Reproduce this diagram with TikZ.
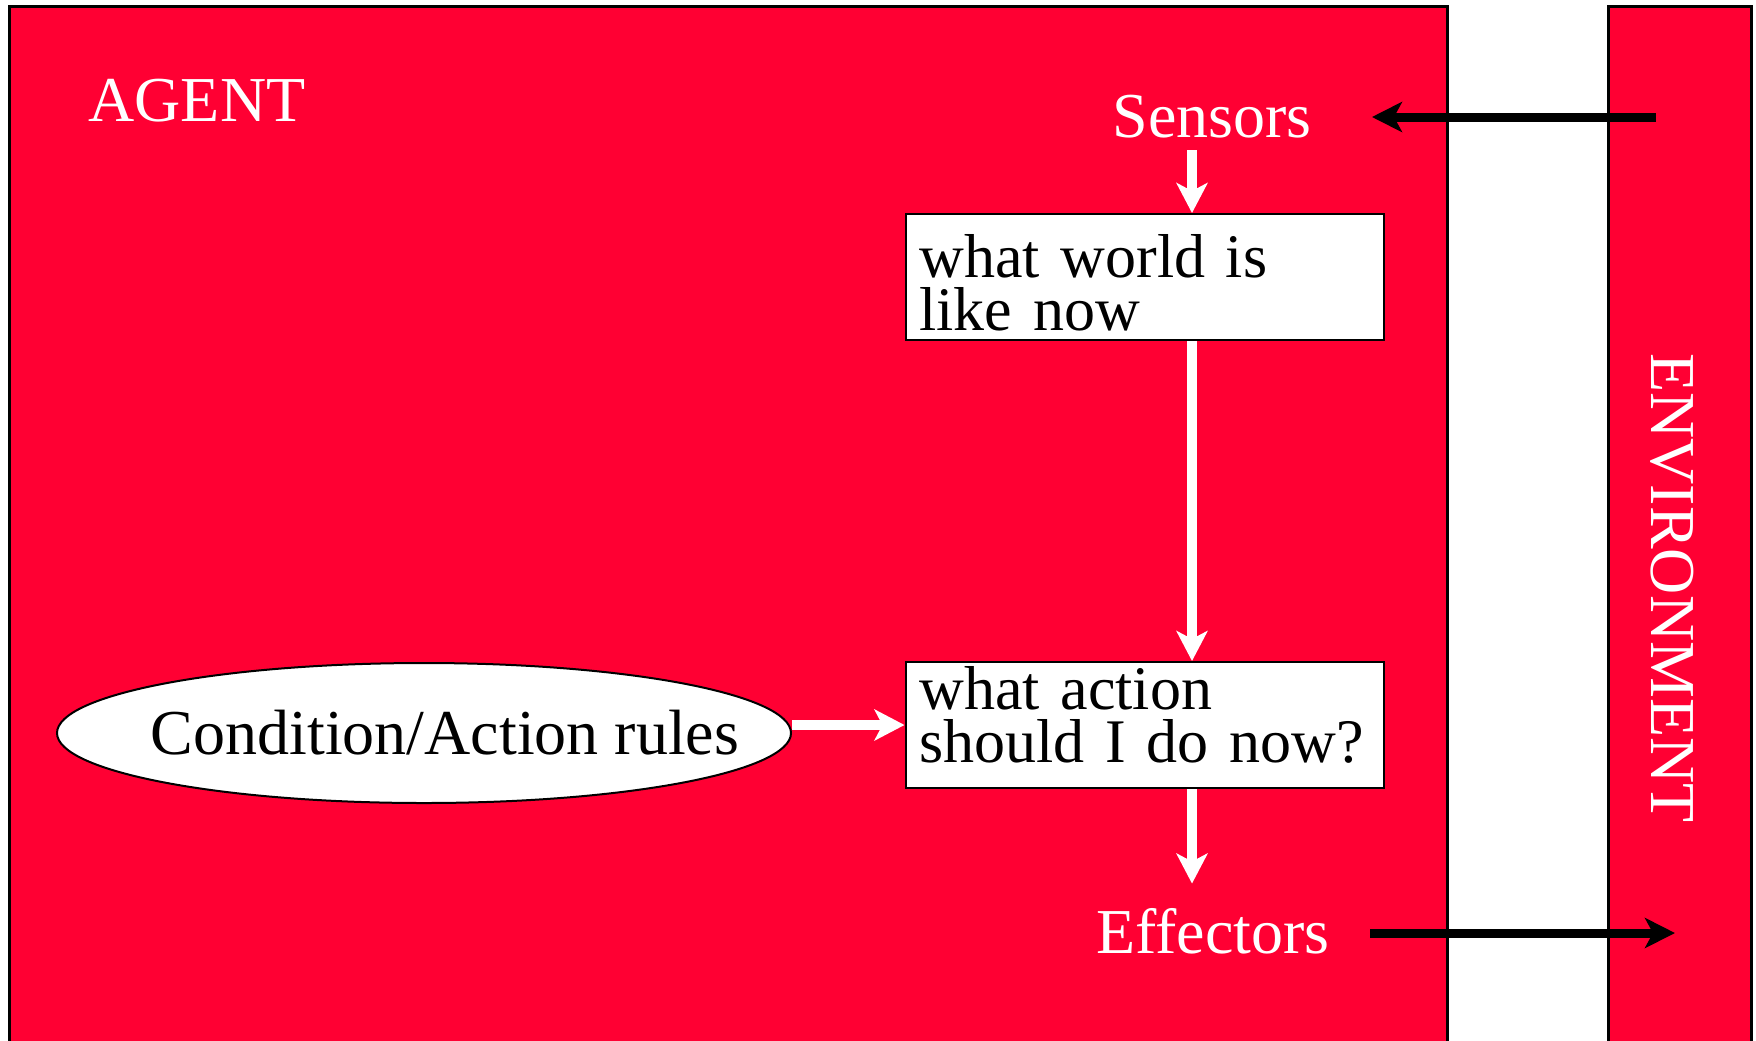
\documentclass[tikz,border=0pt]{standalone}
\usepackage{fontspec}
\setmainfont{Liberation Serif}
\usetikzlibrary{arrows.meta,shapes.geometric}
\definecolor{agentred}{RGB}{255,0,51}
\begin{document}
\begin{tikzpicture}
  [x=0.5pt, y=-0.5pt,
   frame/.style={draw=black, line width=1.5pt, fill=agentred},
   lbl/.style={text=white, inner sep=0pt, anchor=base, font=\fontsize{32pt}{32pt}\selectfont},
   box/.style={draw=black, line width=1pt, fill=white, minimum width=238.5pt, minimum height=63pt,
     text width=225pt, inner xsep=7pt, inner ysep=0pt, align=left, font=\fontsize{31pt}{26.5pt}\selectfont},
   rules/.style={ellipse, draw=black, line width=1pt, fill=white, minimum width=367pt, minimum height=70pt,
     inner sep=0pt, font=\fontsize{32pt}{32pt}\selectfont},
   wire/.style={draw=white, line width=5pt, -{Stealth[length=15pt, width=15.5pt, inset=4pt]}},
   feed/.style={draw=black, line width=4.5pt, -{Stealth[length=15pt, width=15pt, inset=4pt]}}]
  \useasboundingbox (0,0) rectangle (1756,1040);
  \clip (0,0) rectangle (1756,1040);
  \draw[frame] (9,6) rectangle (1447,1126);
  \draw[frame] (1608,6) rectangle (1751,1126);
  \node[lbl] (agent) at (197,121) {AGENT};
  \node[lbl, rotate=-90] (env) at (1651,588) {ENVIRONMENT};
  \node[lbl] (sensors) at (1212,137) {Sensors};
  \node[lbl] (effectors) at (1213,953) {Effectors};
  \node[box] (world) at (1144.5,277) {\rule{0pt}{27pt}what world is\\like now};
  \node[box] (action) at (1144.5,725) {what action\\should I do now?\rule[-11pt]{0pt}{0pt}};
  \node[rules] (rules) at (424,733) {\makebox[0pt]{\hspace{21pt}Condition/Action rules}};
  \coordinate (spine) at (1192,0);
  \coordinate (envin) at (1656,117);
  \coordinate (envout) at (1675,933);
  % inside the agent
  \draw[wire, shorten <=6pt] (sensors.south -| spine) -- (world.north -| spine);
  \draw[wire] (world.south -| spine) -- (action.north -| spine);
  \draw[wire, shorten >=12pt] (action.south -| spine) -- (effectors.north -| spine);
  \draw[wire] ([yshift=4pt]rules.east) -- ([yshift=4pt]rules.east -| action.west);
  % to and from the environment
  \draw[feed, shorten >=30pt] (envin) -- (envin -| sensors.east);
  \draw[feed, shorten <=20pt] (effectors.east |- envout) -- (envout);
\end{tikzpicture}
\end{document}
